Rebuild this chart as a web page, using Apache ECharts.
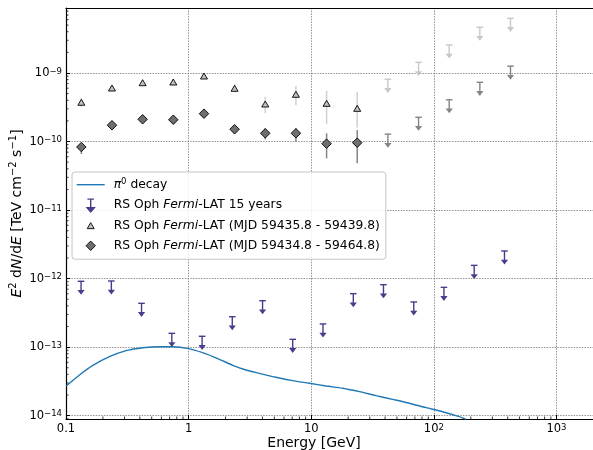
<!DOCTYPE html>
<html><head><meta charset="utf-8">
<script src="https://cdn.jsdelivr.net/npm/echarts@6/dist/echarts.min.js"></script>
<style>html,body{margin:0;padding:0;background:#fff}#c{width:593px;height:450px}</style>
</head><body><div id="c"></div>
<script>
const FONT = 'DejaVu Sans';

// ---- pi0 decay model (E in GeV, E^2 dN/dE in TeV cm^-2 s^-1)
const pionE = [0.1003, 0.1288, 0.1656, 0.2262, 0.3093, 0.4229, 0.578, 0.742, 0.983, 1.303, 1.782, 2.288, 2.94, 3.776, 5.16, 7.05, 9.65, 13.2, 18.0, 24.7, 33.7, 46.0, 63.0, 86.2, 117.8, 161, 183];
const pionF = [2.71e-14, 3.93e-14, 5.43e-14, 7.26e-14, 8.88e-14, 9.81e-14, 1.015e-13, 1.015e-13, 9.61e-14, 8.30e-14, 6.65e-14, 5.43e-14, 4.64e-14, 4.15e-14, 3.63e-14, 3.24e-14, 2.97e-14, 2.71e-14, 2.51e-14, 2.24e-14, 1.96e-14, 1.73e-14, 1.52e-14, 1.31e-14, 1.14e-14, 9.66e-15, 8.85e-15];

// ---- RS Oph Fermi-LAT 15 years (upper limits)
const ul15E = [0.1327, 0.2343, 0.4130, 0.7295, 1.288, 2.270, 4.009, 7.063, 12.47, 22.03, 38.82, 68.55, 120.8, 213.3, 376.7];
const ul15F = [9.14e-13, 9.23e-13, 4.36e-13, 1.59e-13, 1.44e-13, 2.78e-13, 4.76e-13, 1.30e-13, 2.18e-13, 6.03e-13, 8.15e-13, 4.56e-13, 7.46e-13, 1.56e-12, 2.53e-12];

// ---- RS Oph Fermi-LAT (MJD 59435.8 - 59439.8): detections + upper limits
const triE  = [0.1334, 0.2371, 0.4217, 0.7499, 1.334, 2.371, 4.217, 7.499, 13.34, 23.71];
const triF  = [3.74e-10, 6.04e-10, 7.22e-10, 7.39e-10, 9.04e-10, 5.98e-10, 3.53e-10, 4.89e-10, 3.61e-10, 3.05e-10];
const triLo = [3.22e-10, 5.55e-10, 6.64e-10, 6.79e-10, 8.31e-10, 5.23e-10, 2.58e-10, 3.38e-10, 1.80e-10, 1.60e-10];
const triHi = [4.31e-10, 6.57e-10, 7.86e-10, 8.04e-10, 9.84e-10, 6.84e-10, 4.51e-10, 6.46e-10, 5.52e-10, 5.22e-10];
const triUlE = [42.17, 74.99, 133.4, 237.1, 421.7];
const triUlF = [8.09e-10, 1.43e-9, 2.56e-9, 4.65e-9, 6.28e-9];

// ---- RS Oph Fermi-LAT (MJD 59434.8 - 59464.8): detections + upper limits
const diaE  = [0.1334, 0.2371, 0.4217, 0.7499, 1.334, 2.371, 4.217, 7.499, 13.34, 23.71];
const diaF  = [8.32e-11, 1.73e-10, 2.11e-10, 2.08e-10, 2.55e-10, 1.51e-10, 1.32e-10, 1.32e-10, 9.30e-11, 9.62e-11];
const diaLo = [6.58e-11, 1.56e-10, 1.91e-10, 1.88e-10, 2.31e-10, 1.32e-10, 1.07e-10, 9.96e-11, 5.69e-11, 4.82e-11];
const diaHi = [9.42e-11, 1.91e-10, 2.33e-10, 2.30e-10, 2.82e-10, 1.73e-10, 1.56e-10, 1.56e-10, 1.32e-10, 1.47e-10];
const diaUlE = [42.17, 74.99, 133.4, 237.1, 421.7];
const diaUlF = [1.28e-10, 2.26e-10, 4.07e-10, 7.32e-10, 1.26e-9];

// ---- axes
const xMin = 0.1, xMax = 1985;
const yMin = 8.94e-15, yMax = 8.88e-9;
const xTickValues = [0.1, 1, 10, 100, 1000];
const xTickBase = ['0.1', '1', '10', '10', '10'];
const xTickSup = ['', '', '', '2', '3'];
const yTickValues = [1e-14, 1e-13, 1e-12, 1e-11, 1e-10, 1e-9];
const yTickBase = ['10', '10', '10', '10', '10', '10'];
const yTickSup = ['−14', '−13', '−12', '−11', '−10', '−9'];
const legendNames = ['pi0', 'ul15', 'tri', 'dia'];
const legendLabels = ['{i|π}{s|0} decay', 'RS Oph {i|Fermi}-LAT 15 years', 'RS Oph {i|Fermi}-LAT (MJD 59435.8 - 59439.8)', 'RS Oph {i|Fermi}-LAT (MJD 59434.8 - 59464.8)'];

const C_UL15 = '#483d8b', C_LIGHT = '#c8c8c8', C_GREY = '#858585';

function tickLabel(vals, base, sup, v) {
  for (let i = 0; i < vals.length; i++) {
    if (Math.abs(Math.log10(v) - Math.log10(vals[i])) < 1e-6) {
      return '{n|' + base[i] + '}' + (sup[i] ? '{s|' + sup[i] + '}' : '');
    }
  }
  return '';
}
function zip(a, b) { return a.map((v, i) => [v, b[i]]); }
function zip3(a, b, c) { return a.map((v, i) => [v, b[i], c[i]]); }

function arrowRender(color) {
  return function (params, api) {
    const p = api.coord([api.value(0), api.value(1)]);
    const x = p[0], y = p[1];
    return { type: 'group', children: [
      { type: 'line', shape: { x1: x - 3.3, y1: y, x2: x + 3.3, y2: y }, style: { stroke: color, lineWidth: 1.4 } },
      { type: 'line', shape: { x1: x, y1: y, x2: x, y2: y + 9.5 }, style: { stroke: color, lineWidth: 1.4 } },
      { type: 'polygon', shape: { points: [[x - 3.6, y + 8.8], [x + 3.6, y + 8.8], [x, y + 13.6]] }, style: { fill: color } }
    ] };
  };
}
function errRender(color) {
  return function (params, api) {
    const a = api.coord([api.value(0), api.value(1)]);
    const b = api.coord([api.value(0), api.value(2)]);
    return { type: 'line', shape: { x1: a[0], y1: a[1], x2: b[0], y2: b[1] }, style: { stroke: color, lineWidth: 1.5 } };
  };
}

// minor tick positions on log axes
const minorTicks = [];
for (let d = -1; d <= 3; d++) for (let k = 2; k <= 9; k++) { const v = k * Math.pow(10, d); if (v < xMax) minorTicks.push([v, yMin, 0]); }
for (let d = -15; d <= -9; d++) for (let k = 2; k <= 9; k++) { const v = k * Math.pow(10, d); if (v > yMin && v < yMax) minorTicks.push([xMin, v, 1]); }

const supRich = {
  s: { fontFamily: FONT, fontSize: 8.5, verticalAlign: 'top', lineHeight: 9, color: '#000' },
  n: { fontFamily: FONT, fontSize: 11.5, color: '#000' }
};

const chart = echarts.init(document.getElementById('c'), null, { renderer: 'canvas' });
chart.setOption({
  animation: false,
  backgroundColor: '#fff',
  textStyle: { fontFamily: FONT },
  grid: { left: 66, right: 0, top: 8, bottom: 31, containLabel: false, outerBoundsMode: 'none' },
  legend: {
    orient: 'vertical', left: 72, top: 172, z: 20,
    padding: [5, 6, 6, 4], itemGap: 5.2, itemWidth: 32, itemHeight: 14,
    backgroundColor: 'rgba(255,255,255,0.85)', borderColor: '#c4c4c4', borderWidth: 1, borderRadius: 3,
    selectedMode: false,
    textStyle: { fontFamily: FONT, fontSize: 12.3, color: '#000', lineHeight: 14,
      rich: { i: { fontFamily: FONT, fontStyle: 'italic', fontSize: 12.3, color: '#000' },
              s: { fontFamily: FONT, fontSize: 8.5, verticalAlign: 'top', lineHeight: 9, color: '#000' } } },
    formatter: function (name) { return legendLabels[legendNames.indexOf(name)]; },
    data: [
      { name: 'pi0', icon: 'path://M0,0M32,14M0,7L28,7', itemStyle: { color: 'transparent', borderColor: '#1f77b4', borderWidth: 1.4 } },
      { name: 'ul15', icon: 'path://M0,0M32,14M10.7,0.8L17.3,0.8M14,0.8L14,9.5L10.4,9.5L14,13.6L17.6,9.5L14,9.5Z', itemStyle: { color: C_UL15, borderColor: C_UL15, borderWidth: 1.4 } },
      { name: 'tri', icon: 'path://M0,0M32,14M10.5,10L17.5,10L14,4Z', itemStyle: { color: '#c0c0c0', borderColor: '#000', borderWidth: 0.9 } },
      { name: 'dia', icon: 'path://M0,0M32,14M14,2.3L18.7,7L14,11.7L9.3,7Z', itemStyle: { color: '#6e6e6e', borderColor: '#000', borderWidth: 0.9 } }
    ]
  },
  xAxis: [{
    type: 'log', logBase: 10, min: xMin, max: xMax,
    name: 'Energy [GeV]', nameLocation: 'middle', nameGap: 17, nameMoveOverlap: false,
    nameTextStyle: { fontFamily: FONT, fontSize: 14, color: '#000', padding: [0, 31, 0, 0] },
    axisLine: { show: true, onZero: false, lineStyle: { color: '#000', width: 1.2 } },
    axisTick: { show: true, inside: true, length: 4, lineStyle: { color: '#000', width: 1 } },
    axisLabel: { margin: 4, showMaxLabel: false, fontFamily: FONT, fontSize: 11.5, color: '#000', rich: supRich,
      formatter: function (v) { return tickLabel(xTickValues, xTickBase, xTickSup, v); } },
    splitLine: { show: true, lineStyle: { color: '#777', width: 0.8, type: [1.5, 1.2] } }
  }, {
    type: 'log', logBase: 10, min: xMin, max: xMax, position: 'top',
    axisLine: { show: true, onZero: false, lineStyle: { color: '#000', width: 1.2 } },
    axisTick: { show: false }, axisLabel: { show: false }, splitLine: { show: false }
  }],
  yAxis: {
    type: 'log', logBase: 10, min: yMin, max: yMax,
    name: '{i|E}{s|2} d{i|N}/d{i|E} [TeV cm{s|−2} s{s|−1}]', nameLocation: 'middle', nameGap: 40, nameMoveOverlap: false,
    nameTextStyle: { fontFamily: FONT, fontSize: 14, color: '#000', lineHeight: 18,
      rich: { i: { fontFamily: FONT, fontStyle: 'italic', fontSize: 14, color: '#000' },
              s: { fontFamily: FONT, fontSize: 10, verticalAlign: 'top', lineHeight: 10, color: '#000' } } },
    axisLine: { show: true, onZero: false, lineStyle: { color: '#000', width: 1.2 } },
    axisTick: { show: true, inside: true, length: 4, lineStyle: { color: '#000', width: 1 } },
    axisLabel: { margin: 4, showMinLabel: false, showMaxLabel: false, fontFamily: FONT, fontSize: 11.5, color: '#000', rich: supRich,
      formatter: function (v) { return tickLabel(yTickValues, yTickBase, yTickSup, v); } },
    splitLine: { show: true, lineStyle: { color: '#777', width: 0.8, type: [1.5, 1.2] } }
  },
  series: [
    { name: 'minor', type: 'custom', silent: true, z: 10, data: minorTicks, encode: { x: 0, y: 1 },
      renderItem: function (params, api) {
        const p = api.coord([api.value(0), api.value(1)]);
        if (api.value(2) === 0) return { type: 'line', shape: { x1: p[0], y1: p[1], x2: p[0], y2: p[1] - 2.5 }, style: { stroke: '#000', lineWidth: 0.8 } };
        return { type: 'line', shape: { x1: p[0], y1: p[1], x2: p[0] + 2.5, y2: p[1] }, style: { stroke: '#000', lineWidth: 0.8 } };
      } },
    { name: 'pi0', type: 'line', data: zip(pionE, pionF), symbol: 'none', smooth: 0.25, clip: true,
      lineStyle: { color: '#1f77b4', width: 1.4 }, itemStyle: { color: '#1f77b4' }, z: 3 },
    { name: 'ul15', type: 'custom', data: zip(ul15E, ul15F), encode: { x: 0, y: 1 }, renderItem: arrowRender(C_UL15), itemStyle: { color: C_UL15 }, z: 4 },
    { name: 'triErr', type: 'custom', data: zip3(triE, triLo, triHi), encode: { x: 0, y: [1, 2] }, renderItem: errRender('#d0d0d0'), z: 2 },
    { name: 'triUl', type: 'custom', data: zip(triUlE, triUlF), encode: { x: 0, y: 1 }, renderItem: arrowRender(C_LIGHT), z: 2 },
    { name: 'diaErr', type: 'custom', data: zip3(diaE, diaLo, diaHi), encode: { x: 0, y: [1, 2] }, renderItem: errRender(C_GREY), z: 2 },
    { name: 'diaUl', type: 'custom', data: zip(diaUlE, diaUlF), encode: { x: 0, y: 1 }, renderItem: arrowRender(C_GREY), z: 2 },
    { name: 'tri', type: 'scatter', data: zip(triE, triF), symbol: 'triangle', symbolSize: [7, 6],
      itemStyle: { color: '#c0c0c0', borderColor: '#000', borderWidth: 0.9, opacity: 1 }, z: 5 },
    { name: 'dia', type: 'scatter', data: zip(diaE, diaF), symbol: 'diamond', symbolSize: [9.5, 9.5],
      itemStyle: { color: '#6e6e6e', borderColor: '#000', borderWidth: 0.9, opacity: 1 }, z: 5 }
  ]
});
</script>
</body></html>
